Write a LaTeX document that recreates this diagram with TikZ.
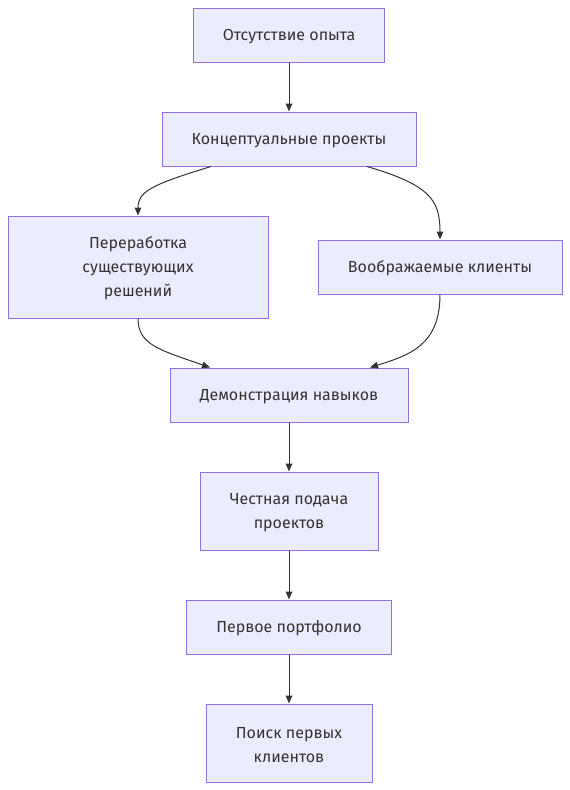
\documentclass[tikz,border=0pt]{standalone}
\usepackage{fontspec}
\setmainfont{Fira Sans}
\usetikzlibrary{arrows.meta}
\definecolor{nodefill}{HTML}{ECECFF}
\definecolor{nodeline}{HTML}{9370DB}
\definecolor{txt}{HTML}{333333}
\begin{document}
\begin{tikzpicture}[x=0.75pt,y=-0.75pt,
  box/.style={draw=nodeline,fill=nodefill,line width=0.75pt,text=txt,align=center,
    font=\fontsize{12pt}{18pt}\selectfont,inner sep=0pt},
  lbl/.style={text=txt,align=center,font=\fontsize{12pt}{18pt}\selectfont,inner sep=0pt,yshift=-1.2pt},
  edge/.style={draw=txt,line width=0.75pt,-{Triangle[length=6pt,width=5pt]}}]
\useasboundingbox (0,0) rectangle (570,790);
\node[box,minimum width=191*0.75pt,minimum height=54*0.75pt] (n1) at (289,35) {};
\node[lbl] (t1) at (n1) {Отсутствие опыта};
\node[box,minimum width=254*0.75pt,minimum height=54*0.75pt] (n2) at (289,139) {};
\node[lbl] (t2) at (n2) {Концептуальные проекты};
\node[box,minimum width=260*0.75pt,minimum height=102*0.75pt] (n3) at (138,267) {};
\node[lbl] (t3) at (n3) {Переработка\\существующих\\решений};
\node[box,minimum width=244*0.75pt,minimum height=54*0.75pt] (n4) at (440,267) {};
\node[lbl] (t4) at (n4) {Воображаемые клиенты};
\node[box,minimum width=238*0.75pt,minimum height=54*0.75pt] (n5) at (289,395) {};
\node[lbl] (t5) at (n5) {Демонстрация навыков};
\node[box,minimum width=178*0.75pt,minimum height=78*0.75pt] (n6) at (289,511) {};
\node[lbl] (t6) at (n6) {Честная подача\\проектов};
\node[box,minimum width=205*0.75pt,minimum height=54*0.75pt] (n7) at (289,627) {};
\node[lbl] (t7) at (n7) {Первое портфолио};
\node[box,minimum width=166*0.75pt,minimum height=78*0.75pt] (n8) at (289,743) {};
\node[lbl] (t8) at (n8) {Поиск первых\\клиентов};
\path[edge] (n1.south) -- (n2.north);
\path[edge] (n2.south -| 211,0) .. controls (150,185) and (138,192) .. (n3.north);
\path[edge] (n2.south -| 367,0) .. controls (430,185) and (440,200) .. (n4.north);
\path[edge] (n3.south) .. controls (138,345) and (160,350) .. (n5.north -| 210,0);
\path[edge] (n4.south) .. controls (440,345) and (410,355) .. (n5.north -| 370,0);
\path[edge] (n5.south) -- (n6.north);
\path[edge] (n6.south) -- (n7.north);
\path[edge] (n7.south) -- (n8.north);
\end{tikzpicture}
\end{document}
